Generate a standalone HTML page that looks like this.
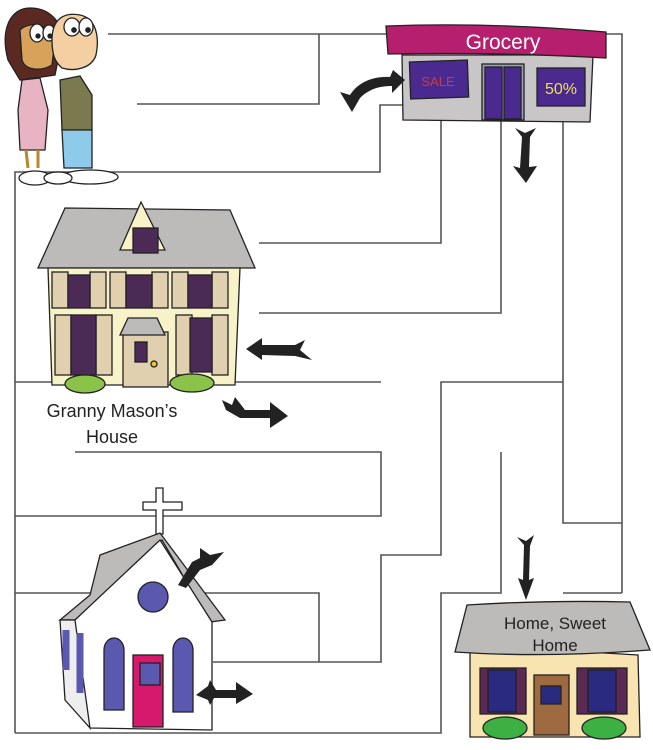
<!DOCTYPE html>
<html><head><meta charset="utf-8"><style>
html,body{margin:0;padding:0;background:#fff;}
svg{display:block;}
text{font-family:"Liberation Sans",sans-serif;}
</style></head><body>
<svg width="653" height="750" viewBox="0 0 653 750" xmlns="http://www.w3.org/2000/svg">
<g stroke="#555" stroke-width="1.6" fill="none">
<!-- maze lines -->
<path d="M108 34 H622 V593"/>
<path d="M319 34 V104 H137"/>
<path d="M15 733 V172 H380 V105 H404"/>
<path d="M441 120 V243 H259"/>
<path d="M501 120 V313 H259"/>
<path d="M563 122 V523 H622"/>
<path d="M15 382 H381"/>
<path d="M563 382 H441 V555 H381 V662 H213"/>
<path d="M75 452 H381 V516 H15"/>
<path d="M15 593 H319 V662"/>
<path d="M501 452 V593 H441 V733 H15"/>
<path d="M563 593 H622"/>
</g>

<!-- People -->
<g stroke="#222" stroke-width="1.3">
<path d="M8 60 C0 30 10 8 30 8 C48 8 62 20 62 40 L55 75 L20 80 Z" fill="#5a2a22"/>
<path d="M20 30 C30 20 50 25 55 40 L52 65 C40 72 25 70 22 60 Z" fill="#d9a25a"/>
<ellipse cx="37" cy="33" rx="7" ry="9" fill="#fff"/><ellipse cx="49" cy="33" rx="6" ry="8" fill="#fff"/>
<circle cx="38" cy="36" r="2" fill="#222"/><circle cx="50" cy="36" r="2" fill="#222"/>
<path d="M22 80 L40 78 L48 110 L45 150 L20 150 L18 110 Z" fill="#e8b4c4"/>
<path d="M26 150 L28 168 M38 150 L38 168" stroke="#b8862e" stroke-width="3"/>
<ellipse cx="35" cy="178" rx="16" ry="7" fill="#fff"/>
<path d="M52 40 C52 18 65 12 80 15 C95 18 100 35 96 55 C92 68 75 72 62 68 C55 62 52 55 52 40 Z" fill="#f3cfa2"/>
<ellipse cx="72" cy="27" rx="8" ry="9" fill="#fff"/><ellipse cx="86" cy="27" rx="7" ry="9" fill="#fff"/>
<circle cx="74" cy="30" r="2.2" fill="#222"/><circle cx="88" cy="30" r="2.2" fill="#222"/>
<path d="M60 80 L80 76 L92 95 L92 130 L62 130 Z" fill="#7a7a4e"/>
<path d="M62 130 H92 V168 H64 Z" fill="#8ecbea"/>
<ellipse cx="90" cy="177" rx="28" ry="7" fill="#fff"/>
<ellipse cx="58" cy="178" rx="14" ry="6" fill="#fff"/>
</g>

<!-- Grocery -->
<g stroke="#222" stroke-width="1.3">
<path d="M402 55 L593 55 L590 122 L403 120 Z" fill="#c8c6c6"/>
<path d="M386 26 Q490 22 606 32 L606 58 Q500 52 388 54 Z" fill="#b51f6e"/>
<rect x="410" y="61" width="58" height="37" fill="#4a2a8e" transform="rotate(-2 439 79)"/>
<rect x="482" y="64" width="42" height="56" fill="#9aa0b8"/>
<rect x="485" y="67" width="17" height="52" fill="#4a2a8e"/><rect x="504" y="67" width="17" height="52" fill="#4a2a8e"/>
<rect x="537" y="68" width="48" height="38" fill="#4a2a8e"/>
</g>
<text x="503" y="49" text-anchor="middle" fill="#fff" font-size="21">Grocery</text>
<text x="438" y="86" text-anchor="middle" fill="#d13a3a" font-size="13">SALE</text>
<text x="561" y="94" text-anchor="middle" fill="#f2e04a" font-size="16">50%</text>

<!-- Granny house -->
<g stroke="#222" stroke-width="1.3">
<path d="M65 208 L230 210 L255 268 L38 268 Z" fill="#bdbaba"/>
<path d="M120 250 L141 202 L165 250 Z" fill="#f8f2c8"/>
<rect x="133" y="228" width="25" height="25" fill="#4b2a55"/>
<path d="M48 268 H240 L235 385 H52 Z" fill="#f8f2c8"/>
<g fill="#e0d0b0"><rect x="52" y="272" width="16" height="36"/><rect x="90" y="272" width="16" height="36"/><rect x="110" y="272" width="16" height="36"/><rect x="152" y="272" width="16" height="36"/><rect x="172" y="272" width="16" height="36"/><rect x="212" y="272" width="16" height="36"/>
<rect x="55" y="315" width="16" height="60"/><rect x="96" y="315" width="16" height="60"/><rect x="176" y="315" width="16" height="60"/><rect x="212" y="315" width="16" height="60"/><rect x="123" y="332" width="45" height="55"/></g>
<g fill="#4b2a55"><rect x="68" y="275" width="22" height="33"/><rect x="126" y="275" width="26" height="33"/><rect x="188" y="275" width="24" height="33"/><rect x="71" y="315" width="25" height="60"/><rect x="190" y="318" width="22" height="54"/><rect x="135" y="342" width="12" height="20"/></g>
<path d="M120 335 L128 318 L157 318 L165 335 Z" fill="#bdbaba"/>
<circle cx="154" cy="364" r="3" fill="#f2c420"/>
<ellipse cx="85" cy="384" rx="20" ry="9" fill="#8bc34a"/><ellipse cx="192" cy="383" rx="22" ry="9" fill="#8bc34a"/>
</g>
<text x="112" y="417" text-anchor="middle" font-size="18" fill="#222">Granny Mason’s</text>
<text x="112" y="443" text-anchor="middle" font-size="18" fill="#222">House</text>

<!-- Church -->
<g stroke="#222" stroke-width="1.3">
<path d="M156 488 h7 v14 h19 v8 h-19 v24 h-7 v-24 h-13 v-8 h13 Z" fill="#fff"/>
<path d="M60 620 L90 595 L100 555 L160 533 L225 620 L210 622 L162 540 L75 620 Z" fill="#bdbaba"/>
<path d="M62 620 L75 620 L160 540 L212 622 L212 730 L90 728 Z" fill="#fff"/>
<path d="M60 620 L75 620 L90 728 L65 700 Z" fill="#eee"/>
<circle cx="153" cy="597" r="15" fill="#5b58b0"/>
<path d="M104 650 a10 12 0 0 1 20 0 V710 H104 Z M173 650 a10 12 0 0 1 20 0 V712 H173 Z" fill="#5b58b0"/>
<rect x="133" y="655" width="30" height="72" fill="#d6196d"/>
<rect x="140" y="663" width="20" height="22" fill="#5b58b0"/>
<path d="M66 630 v40 M80 633 v60" stroke="#5b58b0" stroke-width="7"/>
</g>

<!-- Home -->
<g stroke="#222" stroke-width="1.3">
<path d="M470 645 L470 737 L640 737 L638 655 Z" fill="#f8e4b0"/>
<path d="M467 605 Q545 600 630 602 L650 650 Q545 658 455 652 Z" fill="#bdbaba"/>
<rect x="480" y="668" width="46" height="46" fill="#5a2a55"/><rect x="488" y="670" width="28" height="42" fill="#2a2a80"/>
<rect x="577" y="668" width="50" height="46" fill="#5a2a55"/><rect x="588" y="670" width="28" height="42" fill="#2a2a80"/>
<rect x="534" y="675" width="35" height="60" fill="#a06a40"/><rect x="541" y="686" width="20" height="18" fill="#2a2a80"/>
<ellipse cx="505" cy="728" rx="22" ry="11" fill="#3cb043"/><ellipse cx="604" cy="728" rx="22" ry="11" fill="#3cb043"/>
</g>
<text x="555" y="629" text-anchor="middle" font-size="17" fill="#222">Home, Sweet</text>
<text x="555" y="651" text-anchor="middle" font-size="17" fill="#222">Home</text>

<!-- Arrows -->
<g fill="#222">
<path d="M405 80 L393 70 L390 77 C370 76 357 84 350 95 L340 92 L352 112 L360 98 C368 90 378 86 392 86 L392 93 Z"/>
<path d="M515 128 L522 137 L520 168 L513 166 L526 183 L537 166 L529 167 L530 137 L536 128 L525 133 Z"/>
<path d="M246 349 L262 338 L262 345 L295 345 L305 340 L300 350 L312 360 L295 356 L262 355 L262 360 Z"/>
<path d="M222 400 L232 405 L235 397 L245 410 L270 410 L270 402 L288 416 L270 428 L270 418 L240 418 L226 410 Z"/>
<path d="M178 585 L192 562 L200 558 L200 548 L210 555 L224 552 L212 565 L200 570 L186 588 Z"/>
<path d="M196 695 L208 686 L210 680 L216 690 L236 690 L236 682 L253 694 L236 704 L236 698 L214 698 L210 705 L208 700 Z"/>
<path d="M517 537 L524 545 L523 580 L518 578 L526 600 L534 578 L529 580 L530 546 L534 535 L526 541 Z"/>
</g>
</svg>
</body></html>
